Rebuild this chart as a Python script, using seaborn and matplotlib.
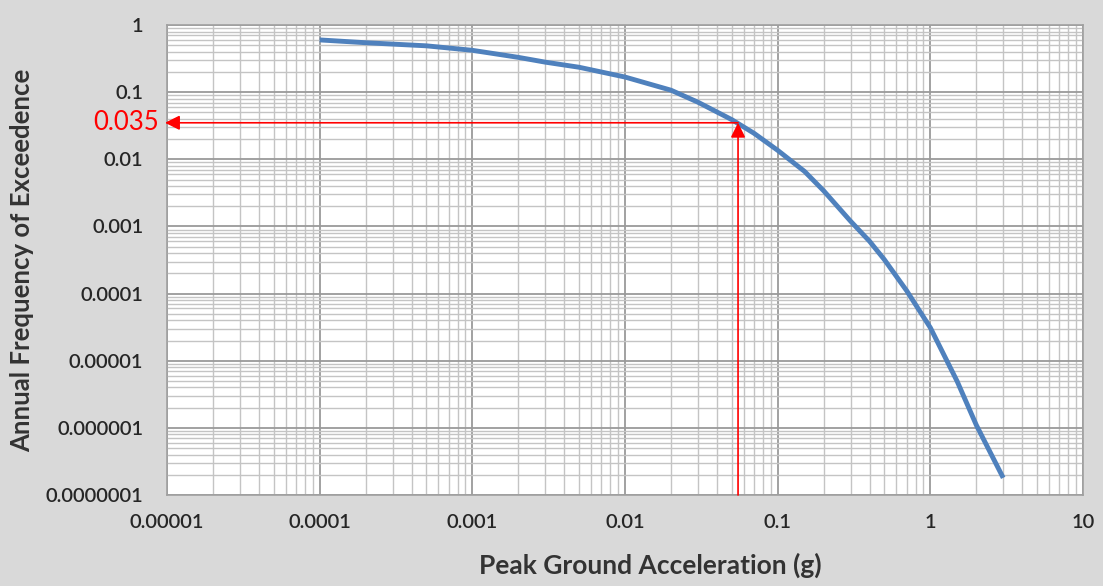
import numpy as np
import matplotlib.pyplot as plt
import seaborn as sns
from matplotlib.ticker import LogLocator, FixedLocator, NullFormatter

# hazard curve
pga = [0.0001, 0.0002, 0.0005, 0.001, 0.002, 0.003, 0.005, 0.01, 0.02, 0.03,
       0.05, 0.07, 0.1, 0.15, 0.2, 0.3, 0.4, 0.5, 0.7, 1.0, 1.5, 2.0, 3.0]
afe = [0.60, 0.545, 0.49, 0.42, 0.33, 0.28, 0.235, 0.168, 0.107, 0.071,
       0.039, 0.0244, 0.0136, 0.0066, 0.0034, 0.0012, 6.0e-4, 3.2e-4, 1.1e-4,
       3.1e-5, 4.9e-6, 1.1e-6, 1.8e-7]

# design point
pick_x = 0.055
pick_y = 0.035
pick_label = "0.035"

x_ticks = [1e-5, 1e-4, 1e-3, 1e-2, 1e-1, 1, 10]
x_labels = ["0.00001", "0.0001", "0.001", "0.01", "0.1", "1", "10"]
y_ticks = [1e-7, 1e-6, 1e-5, 1e-4, 1e-3, 1e-2, 1e-1, 1]
y_labels = ["0.0000001", "0.000001", "0.00001", "0.0001", "0.001", "0.01", "0.1", "1"]

sns.set_style("white")
plt.rcParams['font.family'] = ['Lato', 'DejaVu Sans']

fig = plt.figure(figsize=(11.03, 5.86), dpi=100, facecolor='#d9d9d9')
ax = fig.add_axes([0.1514, 0.1553, 0.8305, 0.802])
ax.set_facecolor('white')

sns.lineplot(x=pga, y=afe, ax=ax, color='#4f81bd', linewidth=3.5, zorder=5,
             solid_joinstyle='round', solid_capstyle='butt')

ax.set_xscale('log')
ax.set_yscale('log')
ax.set_xlim(1e-5, 10)
ax.set_ylim(1e-7, 1)

ax.xaxis.set_major_locator(FixedLocator(x_ticks))
ax.yaxis.set_major_locator(FixedLocator(y_ticks))
ax.set_xticklabels(x_labels)
ax.set_yticklabels(y_labels)
ax.xaxis.set_minor_locator(LogLocator(base=10, subs=np.arange(2, 10), numticks=20))
ax.yaxis.set_minor_locator(LogLocator(base=10, subs=np.arange(2, 10), numticks=20))
ax.xaxis.set_minor_formatter(NullFormatter())
ax.yaxis.set_minor_formatter(NullFormatter())

ax.grid(which='major', color='#9a9a9a', linewidth=1.3)
ax.grid(which='minor', color='#c4c4c4', linewidth=1.0)
ax.set_axisbelow(True)
ax.tick_params(which='both', length=0, labelsize=14.5, colors='#262626')
ax.tick_params(axis='x', pad=14)
ax.tick_params(axis='y', pad=17)
for lab in ax.get_xticklabels() + ax.get_yticklabels():
    lab.set_fontweight('semibold')
for s in ax.spines.values():
    s.set_color('#a0a0a0')
    s.set_linewidth(1.2)

ax.set_xlabel('Peak Ground Acceleration (g)', fontsize=19, fontweight='bold', color='#333333', labelpad=15)
ax.xaxis.label.set_x(0.528)
ax.set_ylabel('Annual Frequency of Exceedence', fontsize=18.5, fontweight='bold', color='#333333', labelpad=8)

# red read-off arrows
ax.annotate('', xy=(pick_x, pick_y), xytext=(pick_x, 1e-7),
            arrowprops=dict(arrowstyle='-|>', color='red', lw=1.2, mutation_scale=22,
                            shrinkA=0, shrinkB=0), zorder=6)
ax.annotate('', xy=(1e-5 / 1.03, pick_y), xytext=(pick_x, pick_y),
            arrowprops=dict(arrowstyle='-|>', color='red', lw=1.2, mutation_scale=22,
                            shrinkA=0, shrinkB=0), zorder=6, annotation_clip=False)
ax.text(1e-5 / 1.12, pick_y, pick_label, color='red', fontsize=18.5, ha='right', va='center')

fig.savefig('out.png', dpi=100, facecolor=fig.get_facecolor())
